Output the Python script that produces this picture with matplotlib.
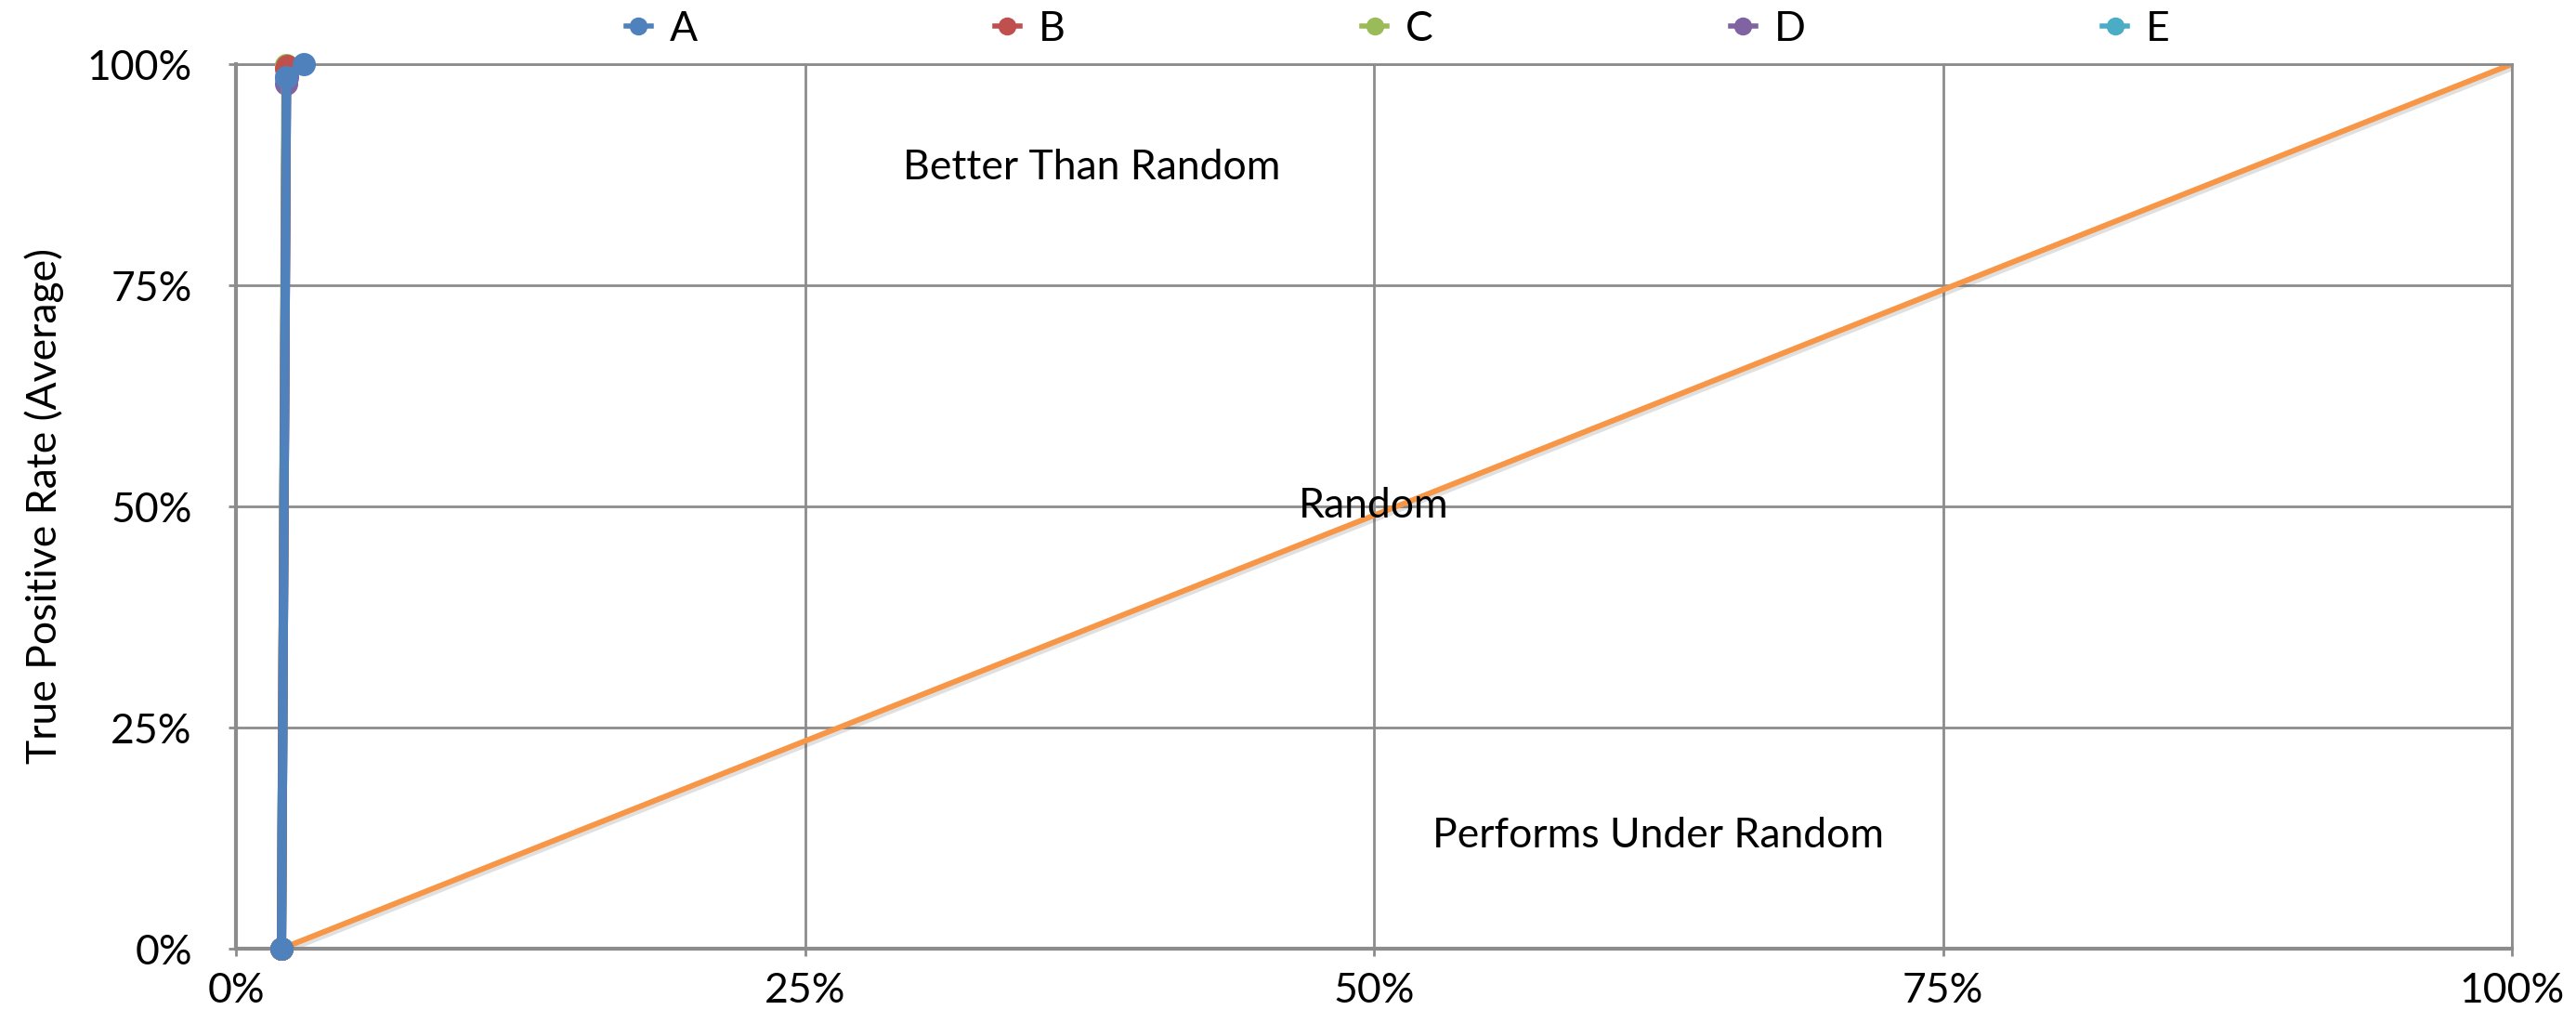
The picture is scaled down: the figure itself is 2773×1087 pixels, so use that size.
import matplotlib
matplotlib.use("Agg")
import matplotlib.pyplot as plt
import matplotlib.patheffects as pe
from matplotlib.lines import Line2D
from matplotlib.ticker import FixedLocator, PercentFormatter

plt.rcParams['font.family'] = ['Lato', 'DejaVu Sans']

# ROC points per classifier (false positive rate, true positive rate)
series_names = ["A", "B", "C", "D", "E"]
fpr_a = [0.020, 0.0222, 0.0298]
tpr_a = [0.000, 0.985, 1.000]
fpr_b = [0.020, 0.0222, 0.0225]
tpr_b = [0.000, 0.995, 0.998]
fpr_c = [0.020, 0.0220, 0.0222]
tpr_c = [0.000, 0.998, 0.999]
fpr_d = [0.020, 0.0222, 0.0225]
tpr_d = [0.000, 0.978, 0.985]
fpr_e = [0.020, 0.0222, 0.0225]
tpr_e = [0.000, 0.985, 0.990]

# Chance-level reference line
random_fpr = [0.020, 1.0]
random_tpr = [0.000, 1.0]

tick_values = [0.0, 0.25, 0.5, 0.75, 1.0]

colors = {"A": "#4F81BD", "B": "#C0504D", "C": "#9BBB59",
          "D": "#8064A2", "E": "#4BACC6"}
random_color = "#F79646"
grid_color = "#8C8C8C"
FS = 32

W, H = 2773, 1087
fig = plt.figure(figsize=(W / 100, H / 100), dpi=100)
ax = fig.add_axes([254 / W, 1 - 1021 / H, (2704 - 254) / W, (1021 - 69) / H])

ax.set_xlim(0, 1)
ax.set_ylim(0, 1)
ax.xaxis.set_major_locator(FixedLocator(tick_values))
ax.yaxis.set_major_locator(FixedLocator(tick_values))
ax.xaxis.set_major_formatter(PercentFormatter(1.0, decimals=0))
ax.yaxis.set_major_formatter(PercentFormatter(1.0, decimals=0))
ax.grid(True, color=grid_color, linewidth=2.0, zorder=0)
ax.set_axisbelow(True)

for side in ["top", "right"]:
    ax.spines[side].set_color(grid_color)
    ax.spines[side].set_linewidth(2.0)
for side in ["left", "bottom"]:
    ax.spines[side].set_color(grid_color)
    ax.spines[side].set_linewidth(3.0)

ax.tick_params(axis="both", labelsize=FS, colors=grid_color, labelcolor="black",
               width=2.0, length=6)
ax.tick_params(axis="x", pad=12)
ax.tick_params(axis="y", pad=28)

ax.set_ylabel("True Positive Rate (Average)", fontsize=32, labelpad=18)

# Chance line with a soft drop shadow
ax.plot(random_fpr, random_tpr, color=random_color, linewidth=4.3,
        solid_capstyle="butt", zorder=2,
        path_effects=[pe.SimpleLineShadow(offset=(1.5, -2.5), alpha=0.18,
                                          shadow_color="#555555"),
                      pe.Normal()])

series = {"A": (fpr_a, tpr_a), "B": (fpr_b, tpr_b), "C": (fpr_c, tpr_c),
          "D": (fpr_d, tpr_d), "E": (fpr_e, tpr_e)}

# Later series first so that A ends up on top
for i, name in enumerate(reversed(series_names)):
    fx, ty = series[name]
    ax.plot(fx, ty, color=colors[name], linewidth=7.2, marker="o",
            markersize=18, markeredgewidth=0, zorder=3 + i, clip_on=False)

ax.text(0.376, 0.870, "Better Than Random", fontsize=FS, ha="center", va="baseline")
ax.text(0.500, 0.487, "Random", fontsize=FS, ha="center", va="baseline", zorder=10)
ax.text(0.625, 0.1145, "Performs Under Random", fontsize=FS, ha="center", va="baseline")

handles = [Line2D([0], [0], color=colors[n], linewidth=4, marker="o",
                  markersize=14, markeredgewidth=0) for n in series_names]
fig.legend(handles, series_names, loc="center", ncol=5,
           bbox_to_anchor=(1505 / W, 1 - 31 / H), frameon=False, fontsize=FS,
           handlelength=0.6, handletextpad=0.45, columnspacing=7.2)

fig.savefig("out.png", dpi=100)
